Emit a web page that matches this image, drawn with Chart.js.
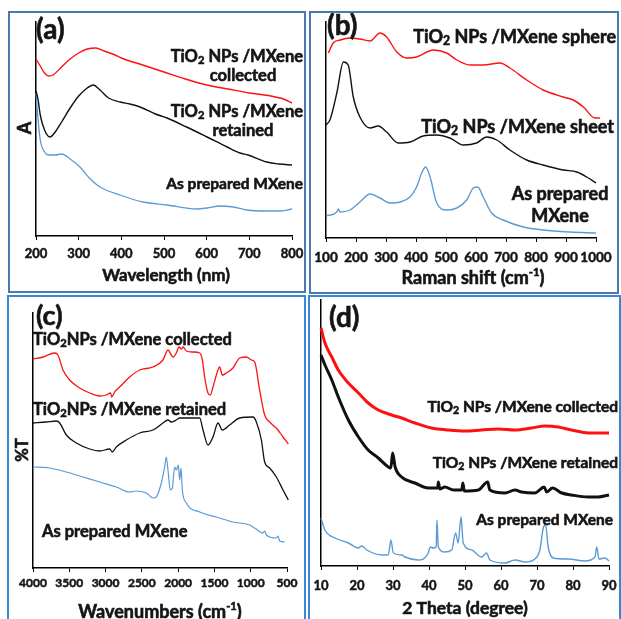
<!DOCTYPE html>
<html>
<head>
<meta charset="utf-8">
<script src="https://cdn.jsdelivr.net/npm/chart.js@4.4.1/dist/chart.umd.min.js"></script>
<style>
  body { margin: 0; background: #fff; }
  #page { position: relative; width: 621px; height: 619px; overflow: hidden; background: #fff; }
  canvas { position: absolute; }
  .box { position: absolute; box-sizing: border-box; pointer-events: none; }
  .top { border: 2.5px solid #4a79ae; }
  .bot { border: 2px solid #3a87d2; }
</style>
</head>
<body>
<div id="page">
  <canvas id="chartA" width="308" height="293" style="left:0;top:0"></canvas>
  <canvas id="chartB" width="313" height="293" style="left:308px;top:0"></canvas>
  <canvas id="chartC" width="308" height="326" style="left:0;top:293px"></canvas>
  <canvas id="chartD" width="313" height="326" style="left:308px;top:293px"></canvas>
  <div class="box top" style="left:8px;top:11px;width:298px;height:282px"></div>
  <div class="box top" style="left:309px;top:11px;width:310px;height:283px"></div>
  <div class="box bot" style="left:7px;top:295px;width:299px;height:340px"></div>
  <div class="box bot" style="left:308px;top:295px;width:313px;height:340px"></div>
</div>
<script>
// (a) UV-vis, absorbance in arbitrary units
const uvCollectedX = [200,210,220,230,240,260,280,300,320,340,360,380,400,450,500,550,600,650,700,750,780,800,810];
const uvCollectedY = [177,170,163,160,161,169,177,183,187,188,185,182,178,171,164,157,151,147,143,140,137,133,131];
const uvRetainedX = [200,205,210,220,233,245,260,280,300,320,334,350,370,397,420,444,480,507,553,601,648,678,697,741,770,800];
const uvRetainedY = [145,136,121,106,99,104,114,128,140,148,151,146,138,134,132,129,122,118,109,99,89,83,81,74,72,71];
const uvMxeneX = [200,205,210,220,229,245,260,280,303,325,350,397,451,507,577,601,631,662,694,741,772,800];
const uvMxeneY = [143,116,96,84,81,81,82,77,69,58,49,41,34,31,27,28,30,29,26,25,25,27];

// (b) Raman
const ramanSphereX = [108,124,147,180,213,247,280,302,336,369,402,458,502,536,580,624,680,713,769,824,891,924,958,997,1013];
const ramanSphereY = [185,195,198,200,199,197,205,201,186,180,181,188,185,178,173,173,175,170,158,148,141,138,131,120,120];
const ramanSheetX = [100,113,136,158,174,191,213,247,274,302,341,380,424,469,513,558,602,636,669,713,769,824,891,936,969,1000];
const ramanSheetY = [113,118,145,176,173,141,121,110,112,106,95,96,102,103,100,93,95,101,98,88,78,73,68,66,61,55];
const ramanMxeneX = [100,136,141,147,180,213,247,280,313,347,380,402,419,432,447,469,502,536,569,591,606,624,652,691,758,824,913,1000];
const ramanMxeneY = [22,26,29,26,28,36,44,40,35,36,41,51,65,71,61,35,28,30,38,50,51,41,25,18,11,8,6,5];

// (c) FTIR, %T
const irCollectedX = [4000,3862,3701,3656,3587,3495,3357,3219,3081,2990,2930,2916,2875,2852,2806,2668,2530,2347,2209,2140,2094,2071,2025,1988,1956,1933,1887,1795,1703,1666,1635,1589,1557,1520,1451,1428,1391,1336,1244,1152,1060,991,945,877,808,739,624,555,482];
const irCollectedY = [209,211,215,213,198,188,180,175,172,173,175,171,176,178,181,191,198,201,208,218,213,211,215,221,219,221,217,216,215,208,191,175,173,181,198,201,193,195,200,210,211,208,206,178,153,146,138,131,124];
const irRetainedX = [4000,3816,3678,3632,3541,3403,3219,3081,2944,2907,2852,2714,2530,2347,2209,2140,2094,2025,1979,1841,1703,1657,1589,1520,1451,1391,1290,1152,968,922,853,808,739,647,555,482];
const irRetainedY = [145,146,147,145,133,125,119,117,119,116,121,128,135,138,145,148,146,148,150,150,150,138,123,131,145,138,143,150,151,146,128,106,100,91,78,68];
const irMxeneX = [4000,3770,3541,3311,3081,2852,2668,2576,2438,2347,2301,2232,2186,2163,2140,2108,2080,2048,2025,1998,1979,1961,1942,1887,1703,1474,1244,1015,946,831,808,785,647,624,601,532];
const irMxeneY = [101,100,96,91,86,81,76,77,75,70,71,85,101,111,98,78,80,101,98,103,88,100,78,65,56,51,46,43,40,35,37,33,30,32,27,26];

// (d) XRD
const xrdCollectedX = [10,11.1,13,14.8,17.6,20.4,23.1,25.9,29.6,32.4,36.1,40.7,45.4,50,54.6,59.3,63.9,68.5,72.2,75.9,79.6,84.3,90];
const xrdCollectedY = [238,223,209,196,183,173,163,156,151,148,143,138,136,135,136,137,136,138,140,139,136,133,133];
const xrdRetainedX = [10,11.1,13,14.8,17.6,20.4,23.1,25.9,28.7,29.4,29.9,30.6,32.4,36.1,39.8,42.4,42.6,43.0,44.4,46.8,49.1,49.4,49.8,53.7,56.3,56.9,61.1,63.9,65.7,69.4,72.0,72.7,74.3,76.9,79.6,84.3,87,90];
const xrdRetainedY = [211,201,186,169,146,129,116,108,99,98,113,99,89,83,78,78,84,77,79,76,76,83,75,76,84,76,73,76,74,73,79,74,78,73,71,69,69,71];
const xrdMxeneX = [10,11.1,13.9,17.6,20.4,21.3,22.7,26.9,28.7,29.4,30.1,32.4,33.3,37,39.8,40.3,41.2,42.0,42.2,42.6,44.4,46.3,47.4,48.1,48.9,49.5,51.9,54.6,56.0,56.9,61.1,63.9,66.7,69.4,70.8,71.8,72.4,73.1,74.5,78.7,83.3,86.1,86.6,87.2,88.9,90];
const xrdMxeneY = [48,36,28,23,18,20,16,11,11,26,13,11,9,6,13,19,18,19,46,19,14,16,33,23,49,23,16,9,13,6,3,6,4,7,16,39,41,19,8,7,5,9,19,7,8,5];

const FONT = 'Lato, "Open Sans", sans-serif';
const INK = '#151515';
const RED = '#ff1010', BLACK = '#111111', BLUE = '#5b9bd5';

// text with _2 subscripts and ^-1 superscripts, slightly stroked to look heavier
function drawRich(ctx, text, x, y, size, align) {
  const parts = text.split(/(_\d|\^-?\d)/).filter(Boolean).map(p => {
    if (p[0] === '_') return { t: p.slice(1), s: size * 0.68, dy: size * 0.22 };
    if (p[0] === '^') return { t: p.slice(1), s: size * 0.62, dy: -size * 0.3 };
    return { t: p, s: size, dy: 0 };
  });
  let w = 0;
  parts.forEach(p => {
    ctx.font = `bold ${p.s}px ${FONT}`;
    p.w = ctx.measureText(p.t).width;
    w += p.w;
  });
  let cx = align === 'right' ? x - w : align === 'center' ? x - w / 2 : x;
  ctx.textBaseline = 'middle';
  ctx.textAlign = 'left';
  ctx.lineWidth = 0.6;
  ctx.strokeStyle = INK;
  parts.forEach(p => {
    ctx.font = `bold ${p.s}px ${FONT}`;
    ctx.fillText(p.t, cx, y + p.dy);
    ctx.strokeText(p.t, cx, y + p.dy);
    cx += p.w;
  });
}

const notesPlugin = {
  id: 'notes',
  afterDraw(chart, args, opts) {
    const ctx = chart.ctx;
    const [ox, oy] = opts.origin;
    ctx.save();
    ctx.fillStyle = INK;
    opts.items.forEach(it => {
      const x = it.x - ox, y = it.y - oy;
      if (it.rot) {
        ctx.save();
        ctx.translate(x, y);
        ctx.rotate(-Math.PI / 2);
        drawRich(ctx, it.text, 0, 0, it.size, 'center');
        ctx.restore();
      } else {
        drawRich(ctx, it.text, x, y, it.size, it.align || 'left');
      }
    });
    ctx.restore();
  }
};

function series(xs, ys, color, width) {
  return {
    data: xs.map((v, i) => ({ x: v, y: ys[i] })),
    borderColor: color,
    borderWidth: width,
    pointRadius: 0,
    tension: 0.25,
    cubicInterpolationMode: 'monotone',
    clip: false
  };
}

function makePanel(id, cfg) {
  new Chart(document.getElementById(id), {
    type: 'line',
    data: { datasets: cfg.datasets },
    options: {
      responsive: false,
      animation: false,
      events: [],
      layout: { padding: cfg.pad },
      plugins: {
        legend: { display: false },
        tooltip: { enabled: false },
        notes: { origin: cfg.origin, items: cfg.notes }
      },
      scales: {
        x: {
          type: 'linear',
          min: cfg.xmin, max: cfg.xmax, reverse: !!cfg.reverse,
          ticks: {
            stepSize: cfg.step, autoSkip: false, maxRotation: 0, minRotation: 0,
            padding: cfg.tickPad, color: INK,
            textStrokeColor: INK, textStrokeWidth: 0.5,
            font: { family: FONT, weight: 'bold', size: cfg.tickSize },
            callback: v => String(v)
          },
          grid: { display: true, drawOnChartArea: false, drawTicks: true, tickLength: 4, color: '#000', lineWidth: 1 },
          border: { color: '#000', width: 1.5 },
          afterFit: s => { s.height = cfg.xh; s.paddingLeft = 0; s.paddingRight = 0; }
        },
        y: {
          min: 0, max: cfg.ymax,
          ticks: { display: false },
          grid: { display: false },
          border: { color: '#000', width: 1.5 },
          afterFit: s => { s.width = 0; }
        }
      }
    },
    plugins: [notesPlugin]
  });
}

makePanel('chartA', {
  origin: [0, 0],
  pad: { left: 36, right: 16, top: 22, bottom: 0 }, xh: 57,
  xmin: 200, xmax: 800, step: 100, tickSize: 13, tickPad: 6, ymax: 214,
  datasets: [
    series(uvCollectedX, uvCollectedY, RED, 1.4),
    series(uvRetainedX, uvRetainedY, BLACK, 1.4),
    series(uvMxeneX, uvMxeneY, BLUE, 1.3)
  ],
  notes: [
    { text: '(a)', x: 36, y: 30, size: 28 },
    { text: 'A', x: 25, y: 128, size: 18, rot: true },
    { text: 'TiO_2 NPs /MXene', x: 303, y: 57, size: 16.5, align: 'right' },
    { text: 'collected', x: 243, y: 76, size: 16.5, align: 'center' },
    { text: 'TiO_2 NPs /MXene', x: 303, y: 112, size: 16.5, align: 'right' },
    { text: 'retained', x: 243, y: 131, size: 16.5, align: 'center' },
    { text: 'As prepared MXene', x: 303, y: 184, size: 15.5, align: 'right' },
    { text: 'Wavelength (nm)', x: 166, y: 276, size: 17, align: 'center' }
  ]
});

makePanel('chartB', {
  origin: [308, 0],
  pad: { left: 18, right: 25, top: 22, bottom: 0 }, xh: 55,
  xmin: 100, xmax: 1000, step: 100, tickSize: 13.5, tickPad: 8, ymax: 216,
  datasets: [
    series(ramanSphereX, ramanSphereY, RED, 1.4),
    series(ramanSheetX, ramanSheetY, BLACK, 1.4),
    series(ramanMxeneX, ramanMxeneY, BLUE, 1.4)
  ],
  notes: [
    { text: '(b)', x: 327, y: 26, size: 28 },
    { text: 'TiO_2 NPs /MXene sphere', x: 616, y: 37, size: 18, align: 'right' },
    { text: 'TiO_2 NPs /MXene sheet', x: 614, y: 127, size: 18, align: 'right' },
    { text: 'As prepared', x: 560, y: 194, size: 18, align: 'center' },
    { text: 'MXene', x: 560, y: 216, size: 18, align: 'center' },
    { text: 'Raman shift (cm^-1)', x: 473, y: 278, size: 18, align: 'center' }
  ]
});

makePanel('chartC', {
  origin: [0, 293],
  pad: { left: 33, right: 21, top: 20, bottom: 0 }, xh: 51,
  xmin: 500, xmax: 4000, reverse: true, step: 500, tickSize: 12, tickPad: 4, ymax: 255,
  datasets: [
    series(irCollectedX, irCollectedY, RED, 1.3),
    series(irRetainedX, irRetainedY, BLACK, 1.3),
    series(irMxeneX, irMxeneY, BLUE, 1.2)
  ],
  notes: [
    { text: '(c)', x: 36, y: 316, size: 27 },
    { text: '%T', x: 23, y: 450, size: 16.5, rot: true },
    { text: 'TiO_2NPs /MXene collected', x: 33, y: 340, size: 16.5 },
    { text: 'TiO_2NPs /MXene retained', x: 33, y: 410, size: 16.5 },
    { text: 'As prepared MXene', x: 42, y: 532, size: 16.5 },
    { text: 'Wavenumbers (cm^-1)', x: 160, y: 612, size: 18, align: 'center' }
  ]
});

makePanel('chartD', {
  origin: [308, 293],
  pad: { left: 13, right: 12, top: 7, bottom: 0 }, xh: 53,
  xmin: 10, xmax: 90, step: 10, tickSize: 13, tickPad: 8, ymax: 266,
  datasets: [
    series(xrdCollectedX, xrdCollectedY, RED, 3),
    series(xrdRetainedX, xrdRetainedY, BLACK, 3),
    series(xrdMxeneX, xrdMxeneY, BLUE, 1.4)
  ],
  notes: [
    { text: '(d)', x: 329, y: 318, size: 28 },
    { text: 'TiO_2 NPs /MXene collected', x: 618, y: 407, size: 15.5, align: 'right' },
    { text: 'TiO_2 NPs /MXene retained', x: 618, y: 463, size: 15.5, align: 'right' },
    { text: 'As prepared MXene', x: 613, y: 520, size: 15.5, align: 'right' },
    { text: '2 Theta (degree)', x: 465, y: 608, size: 17.5, align: 'center' }
  ]
});
</script>
</body>
</html>
